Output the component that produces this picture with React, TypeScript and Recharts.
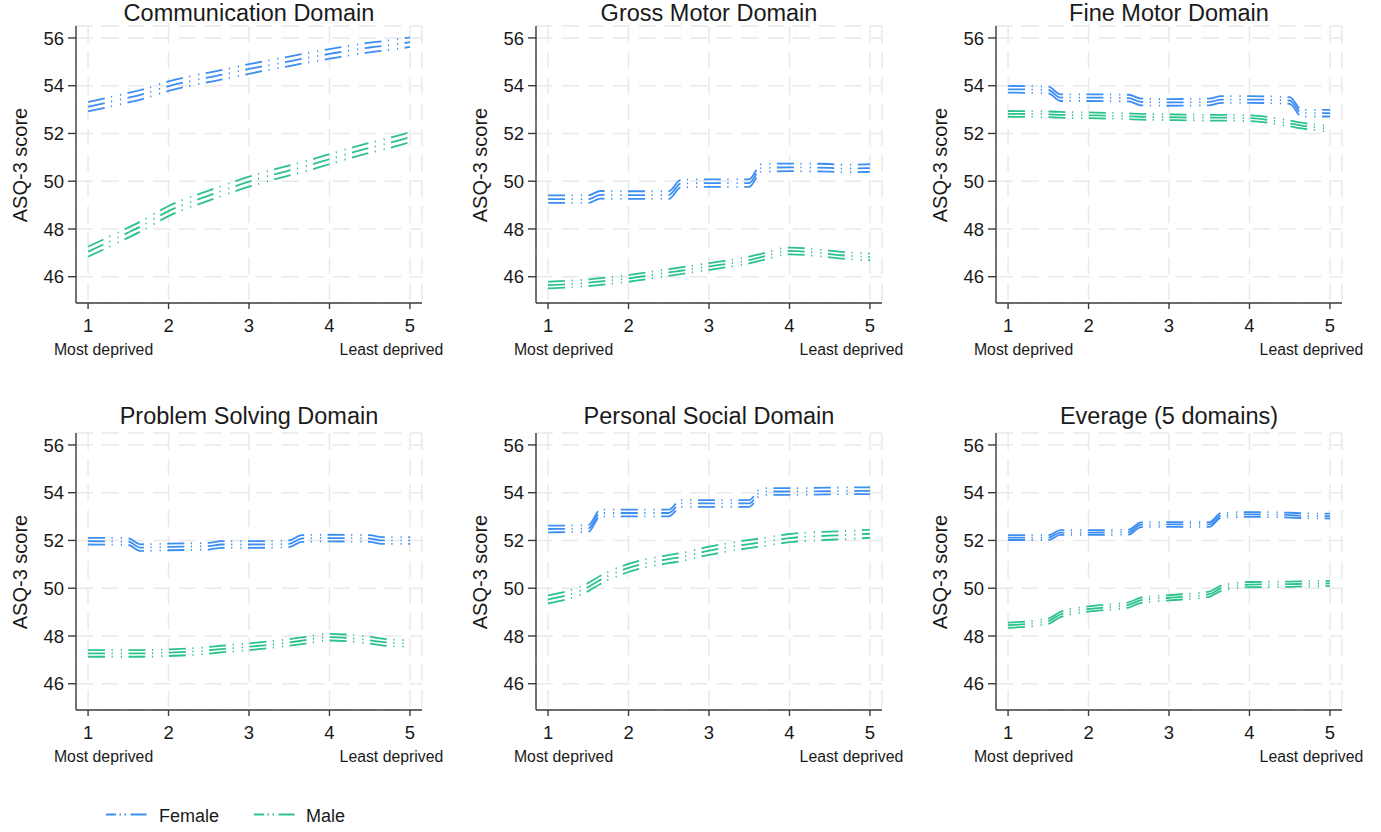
import { CartesianGrid, Line, LineChart, XAxis, YAxis } from "recharts";

// deprivation quintile positions the fitted lines were read at
const xs = [1, 1.5, 1.65, 2, 2.5, 2.65, 3, 3.5, 3.65, 4, 4.5, 4.65, 5];
const xTicks = [1, 2, 3, 4, 5];
const yTicks = [46, 48, 50, 52, 54, 56];

const titles = [
  "Communication Domain",
  "Gross Motor Domain",
  "Fine Motor Domain",
  "Problem Solving Domain",
  "Personal Social Domain",
  "Everage (5 domains)",
];

const commFemale = [53.12, 53.5, 53.62, 53.98, 54.35, 54.45, 54.7, 55.02, 55.12, 55.33, 55.6, 55.66, 55.82];
const commMale = [47.05, 47.85, 48.1, 48.75, 49.4, 49.58, 49.98, 50.45, 50.58, 50.92, 51.4, 51.52, 51.85];

const grossFemale = [49.25, 49.25, 49.43, 49.42, 49.42, 49.9, 49.92, 49.92, 50.55, 50.58, 50.56, 50.53, 50.55];
const grossMale = [45.65, 45.75, 45.8, 45.93, 46.18, 46.25, 46.43, 46.7, 46.82, 47.08, 46.95, 46.9, 46.83];

const fineFemale = [53.85, 53.82, 53.5, 53.5, 53.48, 53.32, 53.3, 53.32, 53.42, 53.42, 53.38, 52.85, 52.85];
const fineMale = [52.82, 52.8, 52.78, 52.76, 52.72, 52.7, 52.68, 52.66, 52.66, 52.64, 52.42, 52.33, 52.2];

const problemFemale = [51.97, 51.95, 51.7, 51.73, 51.76, 51.83, 51.83, 51.86, 52.08, 52.1, 52.08, 52.0, 52.0];
const problemMale = [47.27, 47.27, 47.27, 47.3, 47.4, 47.45, 47.55, 47.73, 47.8, 47.95, 47.82, 47.75, 47.68];

const personalFemale = [52.48, 52.5, 53.15, 53.15, 53.15, 53.55, 53.55, 53.55, 54.05, 54.05, 54.07, 54.08, 54.08];
const personalMale = [49.53, 50.05, 50.35, 50.85, 51.22, 51.3, 51.57, 51.85, 51.92, 52.1, 52.2, 52.22, 52.28];

const averageFemale = [52.12, 52.12, 52.33, 52.33, 52.35, 52.66, 52.67, 52.67, 53.05, 53.09, 53.06, 53.04, 53.02];
const averageMale = [48.45, 48.62, 48.9, 49.13, 49.3, 49.5, 49.6, 49.75, 50.0, 50.15, 50.17, 50.18, 50.2];

// half width of the confidence bands, per panel
const femaleCI = [0.2, 0.16, 0.14, 0.14, 0.14, 0.1];
const maleCI = [0.21, 0.14, 0.12, 0.14, 0.17, 0.11];

const femaleSeries = [commFemale, grossFemale, fineFemale, problemFemale, personalFemale, averageFemale];
const maleSeries = [commMale, grossMale, fineMale, problemMale, personalMale, averageMale];

const BLUE = "#3d8ef2";
const GREEN = "#2cc38b";
const DASH = "17 6.5 1.2 8 1.2 6.5";
const FONT = '"Liberation Sans", Arial, sans-serif';
const TEXT = "#1a1a1a";

const round = (v: number) => Math.round(v * 1000) / 1000;

function buildRows(i: number) {
  const f = femaleSeries[i];
  const m = maleSeries[i];
  return xs.map((x, k) => ({
    x,
    fHi: round(f[k] + femaleCI[i]),
    f: f[k],
    fLo: round(f[k] - femaleCI[i]),
    mHi: round(m[k] + maleCI[i]),
    m: m[k],
    mLo: round(m[k] - maleCI[i]),
  }));
}

function XTick(props: any) {
  const { x, y, payload } = props;
  const v = payload.value;
  return (
    <g>
      <text x={x} y={y} dy="0.71em" textAnchor="middle" fontSize={18.5} fill={TEXT} fontFamily={FONT}>
        {v}
      </text>
      {v === 1 && (
        <text x={x + 15.5} y={y + 35.6} textAnchor="middle" fontSize={15.8} fill={TEXT} fontFamily={FONT}>
          Most deprived
        </text>
      )}
      {v === 5 && (
        <text x={x - 18.5} y={y + 35.6} textAnchor="middle" fontSize={15.8} fill={TEXT} fontFamily={FONT}>
          Least deprived
        </text>
      )}
    </g>
  );
}

const CHART_W = 452;
const CHART_H = 365;
const PLOT_LEFT = 76;
const PLOT_TOP = 26;
const PLOT_W = 346;
const PLOT_H = 277;

function Panel({ index }: { index: number }) {
  const col = index % 3;
  const row = Math.floor(index / 3);
  const left = col * 460;
  const top = row * 407;
  const data = buildRows(index);
  const titleBaseline = row === 0 ? 21.3 : 17;

  return (
    <div style={{ position: "absolute", left, top, width: CHART_W, height: CHART_H }}>
      <svg
        style={{ position: "absolute", left: 0, top: 0, overflow: "visible" }}
        width={CHART_W}
        height={PLOT_TOP}
      >
        <text
          x={PLOT_LEFT + PLOT_W / 2}
          y={titleBaseline}
          textAnchor="middle"
          fontSize={23.5}
          fill={TEXT}
          fontFamily={FONT}
        >
          {titles[index]}
        </text>
      </svg>
      <div
        style={{
          position: "absolute",
          left: PLOT_LEFT - 56,
          top: PLOT_TOP + PLOT_H / 2,
          transform: "translate(-50%, -50%) rotate(-90deg)",
          fontSize: 20,
          color: TEXT,
          whiteSpace: "nowrap",
        }}
      >
        ASQ-3 score
      </div>
      <LineChart
        width={CHART_W}
        height={CHART_H}
        data={data}
        margin={{ top: PLOT_TOP, right: CHART_W - PLOT_LEFT - PLOT_W, bottom: 0, left: 0 }}
      >
        <CartesianGrid stroke="#e9e9e9" strokeWidth={1.5} strokeDasharray="17 8.7" />
        <XAxis
          dataKey="x"
          type="number"
          domain={[0.85, 5.15]}
          ticks={xTicks}
          height={CHART_H - PLOT_TOP - PLOT_H}
          tickSize={6}
          tickMargin={10}
          tick={<XTick />}
          axisLine={{ stroke: "#3c3c3c", strokeWidth: 1.4 }}
          tickLine={{ stroke: "#3c3c3c", strokeWidth: 1.4 }}
          interval={0}
        />
        <YAxis
          type="number"
          domain={[44.9, 56.5]}
          ticks={yTicks}
          width={PLOT_LEFT}
          tickSize={8}
          tickMargin={4}
          tick={{ fontSize: 18.5, fill: TEXT, fontFamily: FONT }}
          axisLine={{ stroke: "#3c3c3c", strokeWidth: 1.4 }}
          tickLine={{ stroke: "#3c3c3c", strokeWidth: 1.4 }}
          interval={0}
          allowDataOverflow
        />
        {["fHi", "f", "fLo"].map((k) => (
          <Line
            key={k}
            dataKey={k}
            type="monotoneX"
            stroke={BLUE}
            strokeWidth={1.8}
            strokeDasharray={DASH}
            dot={false}
            activeDot={false}
            isAnimationActive={false}
          />
        ))}
        {["mHi", "m", "mLo"].map((k) => (
          <Line
            key={k}
            dataKey={k}
            type="monotoneX"
            stroke={GREEN}
            strokeWidth={1.8}
            strokeDasharray={DASH}
            dot={false}
            activeDot={false}
            isAnimationActive={false}
          />
        ))}
      </LineChart>
    </div>
  );
}

function LegendItem({ color, label, x, textX }: { color: string; label: string; x: number; textX: number }) {
  return (
    <>
      <svg style={{ position: "absolute", left: x, top: 810 }} width={42} height={10}>
        <line x1={0} y1={4.5} x2={41} y2={4.5} stroke={color} strokeWidth={2} strokeDasharray="10 3.5 1.5 3.5 1.5 4.5 16" />
      </svg>
      <div style={{ position: "absolute", left: textX, top: 805, lineHeight: "22px", fontSize: 18, color: TEXT }}>
        {label}
      </div>
    </>
  );
}

export default function App() {
  return (
    <div
      style={{
        position: "absolute",
        left: 0,
        top: 0,
        width: 1381,
        height: 832,
        background: "#fff",
        fontFamily: FONT,
        overflow: "hidden",
      }}
    >
      {titles.map((t, i) => (
        <Panel key={t} index={i} />
      ))}
      <LegendItem color={BLUE} label="Female" x={106} textX={159} />
      <LegendItem color={GREEN} label="Male" x={254} textX={306} />
    </div>
  );
}
